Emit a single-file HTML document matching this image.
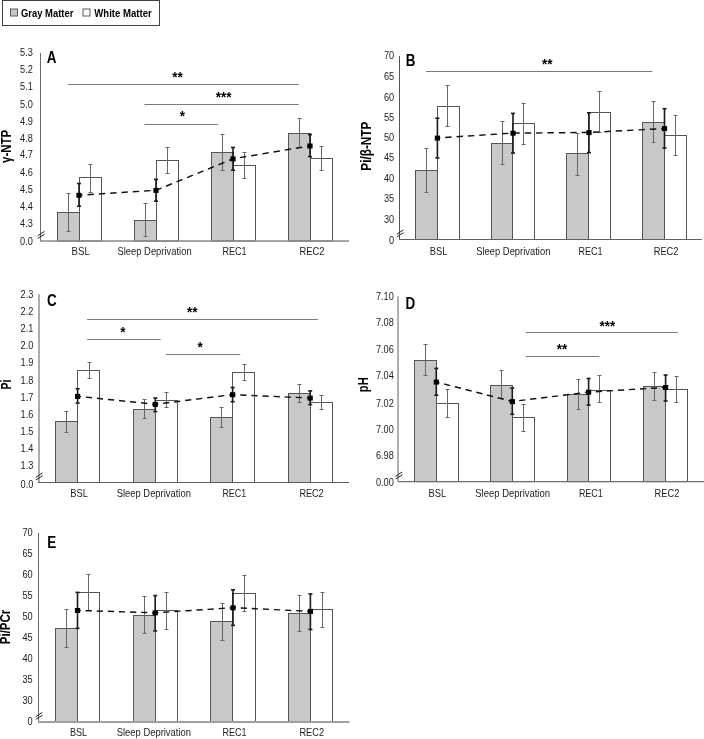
<!DOCTYPE html>
<html><head><meta charset="utf-8"><style>
html,body{margin:0;padding:0;background:#fff;}
svg{display:block;font-family:"Liberation Sans",sans-serif;filter:grayscale(1);}
</style></head><body>
<svg width="704" height="739" viewBox="0 0 704 739">
<rect width="704" height="739" fill="#fff"/>
<!-- panel A -->
<rect x="57.5" y="212.5" width="22" height="28.5" fill="#c8c8c8" stroke="#555555" stroke-width="1"/>
<rect x="79.5" y="177.5" width="22" height="63.5" fill="#fff" stroke="#555555" stroke-width="1"/>
<rect x="134.5" y="220.5" width="22" height="20.5" fill="#c8c8c8" stroke="#555555" stroke-width="1"/>
<rect x="156.5" y="160.5" width="22" height="80.5" fill="#fff" stroke="#555555" stroke-width="1"/>
<rect x="211.5" y="152.5" width="22" height="88.5" fill="#c8c8c8" stroke="#555555" stroke-width="1"/>
<rect x="233.5" y="165.5" width="22" height="75.5" fill="#fff" stroke="#555555" stroke-width="1"/>
<rect x="288.5" y="133.5" width="22" height="107.5" fill="#c8c8c8" stroke="#555555" stroke-width="1"/>
<rect x="310.5" y="158.5" width="22" height="82.5" fill="#fff" stroke="#555555" stroke-width="1"/>
<line x1="68.5" y1="193.5" x2="68.5" y2="231.5" stroke="#666666" stroke-width="1"/>
<line x1="66.5" y1="193.5" x2="70.5" y2="193.5" stroke="#666666" stroke-width="1"/>
<line x1="66.5" y1="231.5" x2="70.5" y2="231.5" stroke="#666666" stroke-width="1"/>
<line x1="90.5" y1="164.5" x2="90.5" y2="192.5" stroke="#666666" stroke-width="1"/>
<line x1="88.5" y1="164.5" x2="92.5" y2="164.5" stroke="#666666" stroke-width="1"/>
<line x1="88.5" y1="192.5" x2="92.5" y2="192.5" stroke="#666666" stroke-width="1"/>
<line x1="145.5" y1="203.5" x2="145.5" y2="236.5" stroke="#666666" stroke-width="1"/>
<line x1="143.5" y1="203.5" x2="147.5" y2="203.5" stroke="#666666" stroke-width="1"/>
<line x1="143.5" y1="236.5" x2="147.5" y2="236.5" stroke="#666666" stroke-width="1"/>
<line x1="167.5" y1="147.5" x2="167.5" y2="173.5" stroke="#666666" stroke-width="1"/>
<line x1="165.5" y1="147.5" x2="169.5" y2="147.5" stroke="#666666" stroke-width="1"/>
<line x1="165.5" y1="173.5" x2="169.5" y2="173.5" stroke="#666666" stroke-width="1"/>
<line x1="222.5" y1="134.5" x2="222.5" y2="170.5" stroke="#666666" stroke-width="1"/>
<line x1="220.5" y1="134.5" x2="224.5" y2="134.5" stroke="#666666" stroke-width="1"/>
<line x1="220.5" y1="170.5" x2="224.5" y2="170.5" stroke="#666666" stroke-width="1"/>
<line x1="244.5" y1="152.5" x2="244.5" y2="178.5" stroke="#666666" stroke-width="1"/>
<line x1="242.5" y1="152.5" x2="246.5" y2="152.5" stroke="#666666" stroke-width="1"/>
<line x1="242.5" y1="178.5" x2="246.5" y2="178.5" stroke="#666666" stroke-width="1"/>
<line x1="299.5" y1="118.5" x2="299.5" y2="147.5" stroke="#666666" stroke-width="1"/>
<line x1="297.5" y1="118.5" x2="301.5" y2="118.5" stroke="#666666" stroke-width="1"/>
<line x1="297.5" y1="147.5" x2="301.5" y2="147.5" stroke="#666666" stroke-width="1"/>
<line x1="321.5" y1="146.5" x2="321.5" y2="170.5" stroke="#666666" stroke-width="1"/>
<line x1="319.5" y1="146.5" x2="323.5" y2="146.5" stroke="#666666" stroke-width="1"/>
<line x1="319.5" y1="170.5" x2="323.5" y2="170.5" stroke="#666666" stroke-width="1"/>
<line x1="40.5" y1="53" x2="40.5" y2="241" stroke="#6a6a6a" stroke-width="1.05"/>
<line x1="40" y1="241" x2="349" y2="241" stroke="#8a8a8a" stroke-width="1.7"/>
<path d="M37.7,235.8 L44.4,231.4 M37.9,238.3 L44.6,234.2" stroke="#222" stroke-width="1" fill="none"/>
<polyline points="79,195.2 156,190.3 233,158.8 310,145.9" fill="none" stroke="#111" stroke-width="1.45" stroke-dasharray="6.4 4.95" stroke-dashoffset="2.85"/>
<line x1="79" y1="183.5" x2="79" y2="206.2" stroke="#1a1a1a" stroke-width="1.6"/>
<line x1="77" y1="183.5" x2="81" y2="183.5" stroke="#1a1a1a" stroke-width="1.6"/>
<line x1="77" y1="206.2" x2="81" y2="206.2" stroke="#1a1a1a" stroke-width="1.6"/>
<rect x="76.4" y="192.8" width="5.2" height="5" fill="#000"/>
<line x1="156" y1="179.4" x2="156" y2="201.2" stroke="#1a1a1a" stroke-width="1.6"/>
<line x1="154" y1="179.4" x2="158" y2="179.4" stroke="#1a1a1a" stroke-width="1.6"/>
<line x1="154" y1="201.2" x2="158" y2="201.2" stroke="#1a1a1a" stroke-width="1.6"/>
<rect x="153.4" y="187.9" width="5.2" height="5" fill="#000"/>
<line x1="233" y1="147.5" x2="233" y2="170.2" stroke="#1a1a1a" stroke-width="1.6"/>
<line x1="231" y1="147.5" x2="235" y2="147.5" stroke="#1a1a1a" stroke-width="1.6"/>
<line x1="231" y1="170.2" x2="235" y2="170.2" stroke="#1a1a1a" stroke-width="1.6"/>
<rect x="230.4" y="156.4" width="5.2" height="5" fill="#000"/>
<line x1="310" y1="134.6" x2="310" y2="156.7" stroke="#1a1a1a" stroke-width="1.6"/>
<line x1="308" y1="134.6" x2="312" y2="134.6" stroke="#1a1a1a" stroke-width="1.6"/>
<line x1="308" y1="156.7" x2="312" y2="156.7" stroke="#1a1a1a" stroke-width="1.6"/>
<rect x="307.4" y="143.5" width="5.2" height="5" fill="#000"/>
<text transform="translate(32.8,56.2) scale(0.8,1)" text-anchor="end" font-size="11.5" font-weight="normal" fill="#1c1c1c">5.3</text>
<text transform="translate(32.8,72.75) scale(0.8,1)" text-anchor="end" font-size="11.5" font-weight="normal" fill="#1c1c1c">5.2</text>
<text transform="translate(32.8,90.2) scale(0.8,1)" text-anchor="end" font-size="11.5" font-weight="normal" fill="#1c1c1c">5.1</text>
<text transform="translate(32.8,107.5) scale(0.8,1)" text-anchor="end" font-size="11.5" font-weight="normal" fill="#1c1c1c">5.0</text>
<text transform="translate(32.8,124.6) scale(0.8,1)" text-anchor="end" font-size="11.5" font-weight="normal" fill="#1c1c1c">4.9</text>
<text transform="translate(32.8,141.6) scale(0.8,1)" text-anchor="end" font-size="11.5" font-weight="normal" fill="#1c1c1c">4.8</text>
<text transform="translate(32.8,158.4) scale(0.8,1)" text-anchor="end" font-size="11.5" font-weight="normal" fill="#1c1c1c">4.7</text>
<text transform="translate(32.8,175.5) scale(0.8,1)" text-anchor="end" font-size="11.5" font-weight="normal" fill="#1c1c1c">4.6</text>
<text transform="translate(32.8,192.5) scale(0.8,1)" text-anchor="end" font-size="11.5" font-weight="normal" fill="#1c1c1c">4.5</text>
<text transform="translate(32.8,209.5) scale(0.8,1)" text-anchor="end" font-size="11.5" font-weight="normal" fill="#1c1c1c">4.4</text>
<text transform="translate(32.8,226.6) scale(0.8,1)" text-anchor="end" font-size="11.5" font-weight="normal" fill="#1c1c1c">4.3</text>
<text transform="translate(32.8,244.6) scale(0.8,1)" text-anchor="end" font-size="11.5" font-weight="normal" fill="#1c1c1c">0.0</text>
<text x="71.5" y="255" font-size="11.5" fill="#1c1c1c" textLength="18.3" lengthAdjust="spacingAndGlyphs">BSL</text>
<text x="117.5" y="255" font-size="11.5" fill="#1c1c1c" textLength="74.1" lengthAdjust="spacingAndGlyphs">Sleep Deprivation</text>
<text x="222.6" y="255" font-size="11.5" fill="#1c1c1c" textLength="24.05" lengthAdjust="spacingAndGlyphs">REC1</text>
<text x="299.6" y="255" font-size="11.5" fill="#1c1c1c" textLength="24.9" lengthAdjust="spacingAndGlyphs">REC2</text>
<text transform="translate(46.7,63.3) scale(0.79,1)" font-size="17" font-weight="bold" fill="#000">A</text>
<text transform="translate(10.5,146.35) rotate(-90)" text-anchor="middle" font-size="14" font-weight="bold" fill="#000" textLength="33.3" lengthAdjust="spacingAndGlyphs">γ-NTP</text>
<line x1="68" y1="84.5" x2="298.7" y2="84.5" stroke="#7a7a7a" stroke-width="1"/>
<text transform="translate(177.5,82) scale(0.9,1)" text-anchor="middle" font-size="15" font-weight="bold" fill="#000">**</text>
<line x1="144.5" y1="104.5" x2="298.7" y2="104.5" stroke="#7a7a7a" stroke-width="1"/>
<text transform="translate(223.7,101.9) scale(0.9,1)" text-anchor="middle" font-size="15" font-weight="bold" fill="#000">***</text>
<line x1="144.5" y1="124.5" x2="217.8" y2="124.5" stroke="#7a7a7a" stroke-width="1"/>
<text transform="translate(182.4,121.4) scale(0.9,1)" text-anchor="middle" font-size="15" font-weight="bold" fill="#000">*</text>
<!-- panel B -->
<rect x="415.5" y="170.5" width="22" height="69" fill="#c8c8c8" stroke="#555555" stroke-width="1"/>
<rect x="437.5" y="106.5" width="22" height="133" fill="#fff" stroke="#555555" stroke-width="1"/>
<rect x="491.5" y="143.5" width="21" height="96" fill="#c8c8c8" stroke="#555555" stroke-width="1"/>
<rect x="512.5" y="123.5" width="22" height="116" fill="#fff" stroke="#555555" stroke-width="1"/>
<rect x="566.5" y="153.5" width="22" height="86" fill="#c8c8c8" stroke="#555555" stroke-width="1"/>
<rect x="588.5" y="112.5" width="22" height="127" fill="#fff" stroke="#555555" stroke-width="1"/>
<rect x="642.5" y="122.5" width="22" height="117" fill="#c8c8c8" stroke="#555555" stroke-width="1"/>
<rect x="664.5" y="135.5" width="22" height="104" fill="#fff" stroke="#555555" stroke-width="1"/>
<line x1="426.5" y1="148.5" x2="426.5" y2="192.5" stroke="#666666" stroke-width="1"/>
<line x1="424.5" y1="148.5" x2="428.5" y2="148.5" stroke="#666666" stroke-width="1"/>
<line x1="424.5" y1="192.5" x2="428.5" y2="192.5" stroke="#666666" stroke-width="1"/>
<line x1="447.5" y1="85.5" x2="447.5" y2="126.5" stroke="#666666" stroke-width="1"/>
<line x1="445.5" y1="85.5" x2="449.5" y2="85.5" stroke="#666666" stroke-width="1"/>
<line x1="445.5" y1="126.5" x2="449.5" y2="126.5" stroke="#666666" stroke-width="1"/>
<line x1="502.5" y1="121.5" x2="502.5" y2="164.5" stroke="#666666" stroke-width="1"/>
<line x1="500.5" y1="121.5" x2="504.5" y2="121.5" stroke="#666666" stroke-width="1"/>
<line x1="500.5" y1="164.5" x2="504.5" y2="164.5" stroke="#666666" stroke-width="1"/>
<line x1="523.5" y1="103.5" x2="523.5" y2="144.5" stroke="#666666" stroke-width="1"/>
<line x1="521.5" y1="103.5" x2="525.5" y2="103.5" stroke="#666666" stroke-width="1"/>
<line x1="521.5" y1="144.5" x2="525.5" y2="144.5" stroke="#666666" stroke-width="1"/>
<line x1="577.5" y1="133.5" x2="577.5" y2="175.5" stroke="#666666" stroke-width="1"/>
<line x1="575.5" y1="133.5" x2="579.5" y2="133.5" stroke="#666666" stroke-width="1"/>
<line x1="575.5" y1="175.5" x2="579.5" y2="175.5" stroke="#666666" stroke-width="1"/>
<line x1="599.5" y1="91.5" x2="599.5" y2="132.5" stroke="#666666" stroke-width="1"/>
<line x1="597.5" y1="91.5" x2="601.5" y2="91.5" stroke="#666666" stroke-width="1"/>
<line x1="597.5" y1="132.5" x2="601.5" y2="132.5" stroke="#666666" stroke-width="1"/>
<line x1="653.5" y1="101.5" x2="653.5" y2="142.5" stroke="#666666" stroke-width="1"/>
<line x1="651.5" y1="101.5" x2="655.5" y2="101.5" stroke="#666666" stroke-width="1"/>
<line x1="651.5" y1="142.5" x2="655.5" y2="142.5" stroke="#666666" stroke-width="1"/>
<line x1="675.5" y1="115.5" x2="675.5" y2="155.5" stroke="#666666" stroke-width="1"/>
<line x1="673.5" y1="115.5" x2="677.5" y2="115.5" stroke="#666666" stroke-width="1"/>
<line x1="673.5" y1="155.5" x2="677.5" y2="155.5" stroke="#666666" stroke-width="1"/>
<line x1="399.5" y1="55.9" x2="399.5" y2="239.5" stroke="#555555" stroke-width="1.05"/>
<line x1="399" y1="239.5" x2="702" y2="239.5" stroke="#606060" stroke-width="1.1"/>
<path d="M396.7,234.3 L403.4,229.9 M396.9,236.8 L403.6,232.7" stroke="#222" stroke-width="1" fill="none"/>
<polyline points="437.4,138 513,133.1 589,132.5 664.5,128.5" fill="none" stroke="#111" stroke-width="1.45" stroke-dasharray="6.4 4.98" stroke-dashoffset="3.55"/>
<line x1="437.4" y1="118.2" x2="437.4" y2="157.9" stroke="#1a1a1a" stroke-width="1.6"/>
<line x1="435.4" y1="118.2" x2="439.4" y2="118.2" stroke="#1a1a1a" stroke-width="1.6"/>
<line x1="435.4" y1="157.9" x2="439.4" y2="157.9" stroke="#1a1a1a" stroke-width="1.6"/>
<rect x="434.8" y="135.6" width="5.2" height="5" fill="#000"/>
<line x1="513" y1="113.4" x2="513" y2="153" stroke="#1a1a1a" stroke-width="1.6"/>
<line x1="511" y1="113.4" x2="515" y2="113.4" stroke="#1a1a1a" stroke-width="1.6"/>
<line x1="511" y1="153" x2="515" y2="153" stroke="#1a1a1a" stroke-width="1.6"/>
<rect x="510.4" y="130.7" width="5.2" height="5" fill="#000"/>
<line x1="589" y1="112.8" x2="589" y2="152.6" stroke="#1a1a1a" stroke-width="1.6"/>
<line x1="587" y1="112.8" x2="591" y2="112.8" stroke="#1a1a1a" stroke-width="1.6"/>
<line x1="587" y1="152.6" x2="591" y2="152.6" stroke="#1a1a1a" stroke-width="1.6"/>
<rect x="586.4" y="130.1" width="5.2" height="5" fill="#000"/>
<line x1="664.5" y1="108.7" x2="664.5" y2="148" stroke="#1a1a1a" stroke-width="1.6"/>
<line x1="662.5" y1="108.7" x2="666.5" y2="108.7" stroke="#1a1a1a" stroke-width="1.6"/>
<line x1="662.5" y1="148" x2="666.5" y2="148" stroke="#1a1a1a" stroke-width="1.6"/>
<rect x="661.9" y="126.1" width="5.2" height="5" fill="#000"/>
<text transform="translate(394.2,59.4) scale(0.8,1)" text-anchor="end" font-size="11.5" font-weight="normal" fill="#1c1c1c">70</text>
<text transform="translate(394.2,79.5) scale(0.8,1)" text-anchor="end" font-size="11.5" font-weight="normal" fill="#1c1c1c">65</text>
<text transform="translate(394.2,100.6) scale(0.8,1)" text-anchor="end" font-size="11.5" font-weight="normal" fill="#1c1c1c">60</text>
<text transform="translate(394.2,120.7) scale(0.8,1)" text-anchor="end" font-size="11.5" font-weight="normal" fill="#1c1c1c">55</text>
<text transform="translate(394.2,141) scale(0.8,1)" text-anchor="end" font-size="11.5" font-weight="normal" fill="#1c1c1c">50</text>
<text transform="translate(394.2,161) scale(0.8,1)" text-anchor="end" font-size="11.5" font-weight="normal" fill="#1c1c1c">45</text>
<text transform="translate(394.2,182.2) scale(0.8,1)" text-anchor="end" font-size="11.5" font-weight="normal" fill="#1c1c1c">40</text>
<text transform="translate(394.2,202.3) scale(0.8,1)" text-anchor="end" font-size="11.5" font-weight="normal" fill="#1c1c1c">35</text>
<text transform="translate(394.2,222.8) scale(0.8,1)" text-anchor="end" font-size="11.5" font-weight="normal" fill="#1c1c1c">30</text>
<text transform="translate(394.2,244) scale(0.8,1)" text-anchor="end" font-size="11.5" font-weight="normal" fill="#1c1c1c">0</text>
<text x="429.7" y="255.3" font-size="11.5" fill="#1c1c1c" textLength="17.7" lengthAdjust="spacingAndGlyphs">BSL</text>
<text x="476.2" y="255.3" font-size="11.5" fill="#1c1c1c" textLength="74.2" lengthAdjust="spacingAndGlyphs">Sleep Deprivation</text>
<text x="578.4" y="255.3" font-size="11.5" fill="#1c1c1c" textLength="24.1" lengthAdjust="spacingAndGlyphs">REC1</text>
<text x="653.7" y="255.3" font-size="11.5" fill="#1c1c1c" textLength="24.8" lengthAdjust="spacingAndGlyphs">REC2</text>
<text transform="translate(405.8,66.3) scale(0.79,1)" font-size="17" font-weight="bold" fill="#000">B</text>
<text transform="translate(370.8,146.15) rotate(-90)" text-anchor="middle" font-size="14" font-weight="bold" fill="#000" textLength="49.1" lengthAdjust="spacingAndGlyphs">Pi/β-NTP</text>
<line x1="426" y1="71.5" x2="652.3" y2="71.5" stroke="#7a7a7a" stroke-width="1"/>
<text transform="translate(547.25,69.3) scale(0.9,1)" text-anchor="middle" font-size="15" font-weight="bold" fill="#000">**</text>
<!-- panel C -->
<rect x="55.5" y="421.5" width="22" height="61" fill="#c8c8c8" stroke="#555555" stroke-width="1"/>
<rect x="77.5" y="370.5" width="22" height="112" fill="#fff" stroke="#555555" stroke-width="1"/>
<rect x="133.5" y="409.5" width="22" height="73" fill="#c8c8c8" stroke="#555555" stroke-width="1"/>
<rect x="155.5" y="400.5" width="22" height="82" fill="#fff" stroke="#555555" stroke-width="1"/>
<rect x="210.5" y="417.5" width="22" height="65" fill="#c8c8c8" stroke="#555555" stroke-width="1"/>
<rect x="232.5" y="372.5" width="22" height="110" fill="#fff" stroke="#555555" stroke-width="1"/>
<rect x="288.5" y="393.5" width="22" height="89" fill="#c8c8c8" stroke="#555555" stroke-width="1"/>
<rect x="310.5" y="402.5" width="22" height="80" fill="#fff" stroke="#555555" stroke-width="1"/>
<line x1="66.5" y1="411.5" x2="66.5" y2="432.5" stroke="#666666" stroke-width="1"/>
<line x1="64.5" y1="411.5" x2="68.5" y2="411.5" stroke="#666666" stroke-width="1"/>
<line x1="64.5" y1="432.5" x2="68.5" y2="432.5" stroke="#666666" stroke-width="1"/>
<line x1="89.5" y1="362.5" x2="89.5" y2="378.5" stroke="#666666" stroke-width="1"/>
<line x1="87.5" y1="362.5" x2="91.5" y2="362.5" stroke="#666666" stroke-width="1"/>
<line x1="87.5" y1="378.5" x2="91.5" y2="378.5" stroke="#666666" stroke-width="1"/>
<line x1="144.5" y1="399.5" x2="144.5" y2="418.5" stroke="#666666" stroke-width="1"/>
<line x1="142.5" y1="399.5" x2="146.5" y2="399.5" stroke="#666666" stroke-width="1"/>
<line x1="142.5" y1="418.5" x2="146.5" y2="418.5" stroke="#666666" stroke-width="1"/>
<line x1="166.5" y1="392.5" x2="166.5" y2="407.5" stroke="#666666" stroke-width="1"/>
<line x1="164.5" y1="392.5" x2="168.5" y2="392.5" stroke="#666666" stroke-width="1"/>
<line x1="164.5" y1="407.5" x2="168.5" y2="407.5" stroke="#666666" stroke-width="1"/>
<line x1="221.5" y1="407.5" x2="221.5" y2="427.5" stroke="#666666" stroke-width="1"/>
<line x1="219.5" y1="407.5" x2="223.5" y2="407.5" stroke="#666666" stroke-width="1"/>
<line x1="219.5" y1="427.5" x2="223.5" y2="427.5" stroke="#666666" stroke-width="1"/>
<line x1="244.5" y1="364.5" x2="244.5" y2="380.5" stroke="#666666" stroke-width="1"/>
<line x1="242.5" y1="364.5" x2="246.5" y2="364.5" stroke="#666666" stroke-width="1"/>
<line x1="242.5" y1="380.5" x2="246.5" y2="380.5" stroke="#666666" stroke-width="1"/>
<line x1="299.5" y1="384.5" x2="299.5" y2="402.5" stroke="#666666" stroke-width="1"/>
<line x1="297.5" y1="384.5" x2="301.5" y2="384.5" stroke="#666666" stroke-width="1"/>
<line x1="297.5" y1="402.5" x2="301.5" y2="402.5" stroke="#666666" stroke-width="1"/>
<line x1="321.5" y1="395.5" x2="321.5" y2="409.5" stroke="#666666" stroke-width="1"/>
<line x1="319.5" y1="395.5" x2="323.5" y2="395.5" stroke="#666666" stroke-width="1"/>
<line x1="319.5" y1="409.5" x2="323.5" y2="409.5" stroke="#666666" stroke-width="1"/>
<line x1="39" y1="294.2" x2="39" y2="482.5" stroke="#a8a8a8" stroke-width="1.9"/>
<line x1="38" y1="482.5" x2="349" y2="482.5" stroke="#5a5a5a" stroke-width="1.1"/>
<path d="M35.8,477.3 L42.5,472.9 M36,479.8 L42.7,475.7" stroke="#222" stroke-width="1" fill="none"/>
<polyline points="77.6,396.3 155.3,404.3 232.6,394.6 310.2,398" fill="none" stroke="#111" stroke-width="1.45" stroke-dasharray="6.2 4.9" stroke-dashoffset="2.8"/>
<line x1="77.6" y1="388.8" x2="77.6" y2="403.1" stroke="#1a1a1a" stroke-width="1.6"/>
<line x1="75.6" y1="388.8" x2="79.6" y2="388.8" stroke="#1a1a1a" stroke-width="1.6"/>
<line x1="75.6" y1="403.1" x2="79.6" y2="403.1" stroke="#1a1a1a" stroke-width="1.6"/>
<rect x="75" y="393.9" width="5.2" height="5" fill="#000"/>
<line x1="155.3" y1="398" x2="155.3" y2="411.6" stroke="#1a1a1a" stroke-width="1.6"/>
<line x1="153.3" y1="398" x2="157.3" y2="398" stroke="#1a1a1a" stroke-width="1.6"/>
<line x1="153.3" y1="411.6" x2="157.3" y2="411.6" stroke="#1a1a1a" stroke-width="1.6"/>
<rect x="152.7" y="401.9" width="5.2" height="5" fill="#000"/>
<line x1="232.6" y1="387.5" x2="232.6" y2="401.7" stroke="#1a1a1a" stroke-width="1.6"/>
<line x1="230.6" y1="387.5" x2="234.6" y2="387.5" stroke="#1a1a1a" stroke-width="1.6"/>
<line x1="230.6" y1="401.7" x2="234.6" y2="401.7" stroke="#1a1a1a" stroke-width="1.6"/>
<rect x="230" y="392.2" width="5.2" height="5" fill="#000"/>
<line x1="310.2" y1="390.9" x2="310.2" y2="404.6" stroke="#1a1a1a" stroke-width="1.6"/>
<line x1="308.2" y1="390.9" x2="312.2" y2="390.9" stroke="#1a1a1a" stroke-width="1.6"/>
<line x1="308.2" y1="404.6" x2="312.2" y2="404.6" stroke="#1a1a1a" stroke-width="1.6"/>
<rect x="307.6" y="395.6" width="5.2" height="5" fill="#000"/>
<text transform="translate(33.4,297.8) scale(0.8,1)" text-anchor="end" font-size="11.5" font-weight="normal" fill="#1c1c1c">2.3</text>
<text transform="translate(33.4,314.9) scale(0.8,1)" text-anchor="end" font-size="11.5" font-weight="normal" fill="#1c1c1c">2.2</text>
<text transform="translate(33.4,332) scale(0.8,1)" text-anchor="end" font-size="11.5" font-weight="normal" fill="#1c1c1c">2.1</text>
<text transform="translate(33.4,349) scale(0.8,1)" text-anchor="end" font-size="11.5" font-weight="normal" fill="#1c1c1c">2.0</text>
<text transform="translate(33.4,366.1) scale(0.8,1)" text-anchor="end" font-size="11.5" font-weight="normal" fill="#1c1c1c">1.9</text>
<text transform="translate(33.4,383.5) scale(0.8,1)" text-anchor="end" font-size="11.5" font-weight="normal" fill="#1c1c1c">1.8</text>
<text transform="translate(33.4,400.6) scale(0.8,1)" text-anchor="end" font-size="11.5" font-weight="normal" fill="#1c1c1c">1.7</text>
<text transform="translate(33.4,417.6) scale(0.8,1)" text-anchor="end" font-size="11.5" font-weight="normal" fill="#1c1c1c">1.6</text>
<text transform="translate(33.4,434.7) scale(0.8,1)" text-anchor="end" font-size="11.5" font-weight="normal" fill="#1c1c1c">1.5</text>
<text transform="translate(33.4,451.8) scale(0.8,1)" text-anchor="end" font-size="11.5" font-weight="normal" fill="#1c1c1c">1.4</text>
<text transform="translate(33.4,469) scale(0.8,1)" text-anchor="end" font-size="11.5" font-weight="normal" fill="#1c1c1c">1.3</text>
<text transform="translate(33.4,488) scale(0.8,1)" text-anchor="end" font-size="11.5" font-weight="normal" fill="#1c1c1c">0.0</text>
<text x="70.3" y="496.8" font-size="11.5" fill="#1c1c1c" textLength="17.6" lengthAdjust="spacingAndGlyphs">BSL</text>
<text x="116.7" y="496.8" font-size="11.5" fill="#1c1c1c" textLength="74.2" lengthAdjust="spacingAndGlyphs">Sleep Deprivation</text>
<text x="222.4" y="496.8" font-size="11.5" fill="#1c1c1c" textLength="23.8" lengthAdjust="spacingAndGlyphs">REC1</text>
<text x="299.4" y="496.8" font-size="11.5" fill="#1c1c1c" textLength="24.3" lengthAdjust="spacingAndGlyphs">REC2</text>
<text transform="translate(47,305.9) scale(0.79,1)" font-size="17" font-weight="bold" fill="#000">C</text>
<text transform="translate(10.5,384.45) rotate(-90)" text-anchor="middle" font-size="14" font-weight="bold" fill="#000" textLength="9.9" lengthAdjust="spacingAndGlyphs">Pi</text>
<line x1="87.1" y1="319.5" x2="317.9" y2="319.5" stroke="#7a7a7a" stroke-width="1"/>
<text transform="translate(192.15,316.5) scale(0.9,1)" text-anchor="middle" font-size="15" font-weight="bold" fill="#000">**</text>
<line x1="87.1" y1="339.5" x2="160.7" y2="339.5" stroke="#7a7a7a" stroke-width="1"/>
<text transform="translate(122.8,336.7) scale(0.9,1)" text-anchor="middle" font-size="15" font-weight="bold" fill="#000">*</text>
<line x1="166.2" y1="354.5" x2="240.3" y2="354.5" stroke="#7a7a7a" stroke-width="1"/>
<text transform="translate(200.05,352.3) scale(0.9,1)" text-anchor="middle" font-size="15" font-weight="bold" fill="#000">*</text>
<!-- panel D -->
<rect x="414.5" y="360.5" width="22" height="121.1" fill="#c8c8c8" stroke="#555555" stroke-width="1"/>
<rect x="436.5" y="403.5" width="22" height="78.1" fill="#fff" stroke="#555555" stroke-width="1"/>
<rect x="490.5" y="385.5" width="22" height="96.1" fill="#c8c8c8" stroke="#555555" stroke-width="1"/>
<rect x="512.5" y="417.5" width="22" height="64.1" fill="#fff" stroke="#555555" stroke-width="1"/>
<rect x="567.5" y="394.5" width="21" height="87.1" fill="#c8c8c8" stroke="#555555" stroke-width="1"/>
<rect x="588.5" y="390.5" width="22" height="91.1" fill="#fff" stroke="#555555" stroke-width="1"/>
<rect x="643.5" y="386.5" width="22" height="95.1" fill="#c8c8c8" stroke="#555555" stroke-width="1"/>
<rect x="665.5" y="389.5" width="22" height="92.1" fill="#fff" stroke="#555555" stroke-width="1"/>
<line x1="425.5" y1="344.5" x2="425.5" y2="375.5" stroke="#666666" stroke-width="1"/>
<line x1="423.5" y1="344.5" x2="427.5" y2="344.5" stroke="#666666" stroke-width="1"/>
<line x1="423.5" y1="375.5" x2="427.5" y2="375.5" stroke="#666666" stroke-width="1"/>
<line x1="447.5" y1="389.5" x2="447.5" y2="417.5" stroke="#666666" stroke-width="1"/>
<line x1="445.5" y1="389.5" x2="449.5" y2="389.5" stroke="#666666" stroke-width="1"/>
<line x1="445.5" y1="417.5" x2="449.5" y2="417.5" stroke="#666666" stroke-width="1"/>
<line x1="501.5" y1="370.5" x2="501.5" y2="398.5" stroke="#666666" stroke-width="1"/>
<line x1="499.5" y1="370.5" x2="503.5" y2="370.5" stroke="#666666" stroke-width="1"/>
<line x1="499.5" y1="398.5" x2="503.5" y2="398.5" stroke="#666666" stroke-width="1"/>
<line x1="523.5" y1="404.5" x2="523.5" y2="431.5" stroke="#666666" stroke-width="1"/>
<line x1="521.5" y1="404.5" x2="525.5" y2="404.5" stroke="#666666" stroke-width="1"/>
<line x1="521.5" y1="431.5" x2="525.5" y2="431.5" stroke="#666666" stroke-width="1"/>
<line x1="578.5" y1="379.5" x2="578.5" y2="409.5" stroke="#666666" stroke-width="1"/>
<line x1="576.5" y1="379.5" x2="580.5" y2="379.5" stroke="#666666" stroke-width="1"/>
<line x1="576.5" y1="409.5" x2="580.5" y2="409.5" stroke="#666666" stroke-width="1"/>
<line x1="599.5" y1="375.5" x2="599.5" y2="402.5" stroke="#666666" stroke-width="1"/>
<line x1="597.5" y1="375.5" x2="601.5" y2="375.5" stroke="#666666" stroke-width="1"/>
<line x1="597.5" y1="402.5" x2="601.5" y2="402.5" stroke="#666666" stroke-width="1"/>
<line x1="654.5" y1="372.5" x2="654.5" y2="400.5" stroke="#666666" stroke-width="1"/>
<line x1="652.5" y1="372.5" x2="656.5" y2="372.5" stroke="#666666" stroke-width="1"/>
<line x1="652.5" y1="400.5" x2="656.5" y2="400.5" stroke="#666666" stroke-width="1"/>
<line x1="676.5" y1="376.5" x2="676.5" y2="402.5" stroke="#666666" stroke-width="1"/>
<line x1="674.5" y1="376.5" x2="678.5" y2="376.5" stroke="#666666" stroke-width="1"/>
<line x1="674.5" y1="402.5" x2="678.5" y2="402.5" stroke="#666666" stroke-width="1"/>
<line x1="398" y1="296.3" x2="398" y2="481.6" stroke="#a8a8a8" stroke-width="1.8"/>
<line x1="398" y1="481.6" x2="704" y2="481.6" stroke="#707070" stroke-width="1.3"/>
<path d="M395.5,476.4 L402.2,472 M395.7,478.9 L402.4,474.8" stroke="#222" stroke-width="1" fill="none"/>
<polyline points="436.3,382 512.3,401.5 588.6,392.1 665.6,387.4" fill="none" stroke="#111" stroke-width="1.45" stroke-dasharray="6.2 4.83" stroke-dashoffset="2.83"/>
<line x1="436.3" y1="368.4" x2="436.3" y2="395.2" stroke="#1a1a1a" stroke-width="1.6"/>
<line x1="434.3" y1="368.4" x2="438.3" y2="368.4" stroke="#1a1a1a" stroke-width="1.6"/>
<line x1="434.3" y1="395.2" x2="438.3" y2="395.2" stroke="#1a1a1a" stroke-width="1.6"/>
<rect x="433.7" y="379.6" width="5.2" height="5" fill="#000"/>
<line x1="512.3" y1="388" x2="512.3" y2="414.3" stroke="#1a1a1a" stroke-width="1.6"/>
<line x1="510.3" y1="388" x2="514.3" y2="388" stroke="#1a1a1a" stroke-width="1.6"/>
<line x1="510.3" y1="414.3" x2="514.3" y2="414.3" stroke="#1a1a1a" stroke-width="1.6"/>
<rect x="509.7" y="399.1" width="5.2" height="5" fill="#000"/>
<line x1="588.6" y1="378.5" x2="588.6" y2="405.1" stroke="#1a1a1a" stroke-width="1.6"/>
<line x1="586.6" y1="378.5" x2="590.6" y2="378.5" stroke="#1a1a1a" stroke-width="1.6"/>
<line x1="586.6" y1="405.1" x2="590.6" y2="405.1" stroke="#1a1a1a" stroke-width="1.6"/>
<rect x="586" y="389.7" width="5.2" height="5" fill="#000"/>
<line x1="665.6" y1="375" x2="665.6" y2="401" stroke="#1a1a1a" stroke-width="1.6"/>
<line x1="663.6" y1="375" x2="667.6" y2="375" stroke="#1a1a1a" stroke-width="1.6"/>
<line x1="663.6" y1="401" x2="667.6" y2="401" stroke="#1a1a1a" stroke-width="1.6"/>
<rect x="663" y="385" width="5.2" height="5" fill="#000"/>
<text transform="translate(393.8,300) scale(0.8,1)" text-anchor="end" font-size="11.5" font-weight="normal" fill="#1c1c1c">7.10</text>
<text transform="translate(393.8,326.3) scale(0.8,1)" text-anchor="end" font-size="11.5" font-weight="normal" fill="#1c1c1c">7.08</text>
<text transform="translate(393.8,352.8) scale(0.8,1)" text-anchor="end" font-size="11.5" font-weight="normal" fill="#1c1c1c">7.06</text>
<text transform="translate(393.8,379.1) scale(0.8,1)" text-anchor="end" font-size="11.5" font-weight="normal" fill="#1c1c1c">7.04</text>
<text transform="translate(393.8,406.7) scale(0.8,1)" text-anchor="end" font-size="11.5" font-weight="normal" fill="#1c1c1c">7.02</text>
<text transform="translate(393.8,433) scale(0.8,1)" text-anchor="end" font-size="11.5" font-weight="normal" fill="#1c1c1c">7.00</text>
<text transform="translate(393.8,459.1) scale(0.8,1)" text-anchor="end" font-size="11.5" font-weight="normal" fill="#1c1c1c">6.98</text>
<text transform="translate(393.8,485.9) scale(0.8,1)" text-anchor="end" font-size="11.5" font-weight="normal" fill="#1c1c1c">0.00</text>
<text x="428.5" y="496.7" font-size="11.5" fill="#1c1c1c" textLength="17.7" lengthAdjust="spacingAndGlyphs">BSL</text>
<text x="475.3" y="496.7" font-size="11.5" fill="#1c1c1c" textLength="74.7" lengthAdjust="spacingAndGlyphs">Sleep Deprivation</text>
<text x="578.9" y="496.7" font-size="11.5" fill="#1c1c1c" textLength="23.8" lengthAdjust="spacingAndGlyphs">REC1</text>
<text x="654.6" y="496.7" font-size="11.5" fill="#1c1c1c" textLength="24.7" lengthAdjust="spacingAndGlyphs">REC2</text>
<text transform="translate(405.6,309) scale(0.79,1)" font-size="17" font-weight="bold" fill="#000">D</text>
<text transform="translate(367.7,384.75) rotate(-90)" text-anchor="middle" font-size="14" font-weight="bold" fill="#000" textLength="14.9" lengthAdjust="spacingAndGlyphs">pH</text>
<line x1="525.8" y1="332.5" x2="677.8" y2="332.5" stroke="#7a7a7a" stroke-width="1"/>
<text transform="translate(607.4,330.8) scale(0.9,1)" text-anchor="middle" font-size="15" font-weight="bold" fill="#000">***</text>
<line x1="525.8" y1="356.5" x2="599.3" y2="356.5" stroke="#7a7a7a" stroke-width="1"/>
<text transform="translate(561.95,353.8) scale(0.9,1)" text-anchor="middle" font-size="15" font-weight="bold" fill="#000">**</text>
<!-- panel E -->
<rect x="55.5" y="628.5" width="22" height="93.5" fill="#c8c8c8" stroke="#555555" stroke-width="1"/>
<rect x="77.5" y="592.5" width="22" height="129.5" fill="#fff" stroke="#555555" stroke-width="1"/>
<rect x="133.5" y="615.5" width="22" height="106.5" fill="#c8c8c8" stroke="#555555" stroke-width="1"/>
<rect x="155.5" y="610.5" width="22" height="111.5" fill="#fff" stroke="#555555" stroke-width="1"/>
<rect x="210.5" y="621.5" width="22" height="100.5" fill="#c8c8c8" stroke="#555555" stroke-width="1"/>
<rect x="232.5" y="593.5" width="23" height="128.5" fill="#fff" stroke="#555555" stroke-width="1"/>
<rect x="288.5" y="613.5" width="22" height="108.5" fill="#c8c8c8" stroke="#555555" stroke-width="1"/>
<rect x="310.5" y="609.5" width="22" height="112.5" fill="#fff" stroke="#555555" stroke-width="1"/>
<line x1="66.5" y1="609.5" x2="66.5" y2="647.5" stroke="#666666" stroke-width="1"/>
<line x1="64.5" y1="609.5" x2="68.5" y2="609.5" stroke="#666666" stroke-width="1"/>
<line x1="64.5" y1="647.5" x2="68.5" y2="647.5" stroke="#666666" stroke-width="1"/>
<line x1="88.5" y1="574.5" x2="88.5" y2="610.5" stroke="#666666" stroke-width="1"/>
<line x1="86.5" y1="574.5" x2="90.5" y2="574.5" stroke="#666666" stroke-width="1"/>
<line x1="86.5" y1="610.5" x2="90.5" y2="610.5" stroke="#666666" stroke-width="1"/>
<line x1="144.5" y1="596.5" x2="144.5" y2="633.5" stroke="#666666" stroke-width="1"/>
<line x1="142.5" y1="596.5" x2="146.5" y2="596.5" stroke="#666666" stroke-width="1"/>
<line x1="142.5" y1="633.5" x2="146.5" y2="633.5" stroke="#666666" stroke-width="1"/>
<line x1="166.5" y1="592.5" x2="166.5" y2="629.5" stroke="#666666" stroke-width="1"/>
<line x1="164.5" y1="592.5" x2="168.5" y2="592.5" stroke="#666666" stroke-width="1"/>
<line x1="164.5" y1="629.5" x2="168.5" y2="629.5" stroke="#666666" stroke-width="1"/>
<line x1="222.5" y1="603.5" x2="222.5" y2="640.5" stroke="#666666" stroke-width="1"/>
<line x1="220.5" y1="603.5" x2="224.5" y2="603.5" stroke="#666666" stroke-width="1"/>
<line x1="220.5" y1="640.5" x2="224.5" y2="640.5" stroke="#666666" stroke-width="1"/>
<line x1="244.5" y1="575.5" x2="244.5" y2="611.5" stroke="#666666" stroke-width="1"/>
<line x1="242.5" y1="575.5" x2="246.5" y2="575.5" stroke="#666666" stroke-width="1"/>
<line x1="242.5" y1="611.5" x2="246.5" y2="611.5" stroke="#666666" stroke-width="1"/>
<line x1="299.5" y1="595.5" x2="299.5" y2="631.5" stroke="#666666" stroke-width="1"/>
<line x1="297.5" y1="595.5" x2="301.5" y2="595.5" stroke="#666666" stroke-width="1"/>
<line x1="297.5" y1="631.5" x2="301.5" y2="631.5" stroke="#666666" stroke-width="1"/>
<line x1="322.5" y1="592.5" x2="322.5" y2="627.5" stroke="#666666" stroke-width="1"/>
<line x1="320.5" y1="592.5" x2="324.5" y2="592.5" stroke="#666666" stroke-width="1"/>
<line x1="320.5" y1="627.5" x2="324.5" y2="627.5" stroke="#666666" stroke-width="1"/>
<line x1="38.5" y1="533" x2="38.5" y2="722" stroke="#6a6a6a" stroke-width="1.05"/>
<line x1="38" y1="722" x2="349.4" y2="722" stroke="#a0a0a0" stroke-width="1.8"/>
<path d="M35.6,716.8 L42.3,712.4 M35.8,719.3 L42.5,715.2" stroke="#222" stroke-width="1" fill="none"/>
<polyline points="77.5,610.4 155.2,612.8 233,607.7 310.4,611.3" fill="none" stroke="#111" stroke-width="1.45" stroke-dasharray="6.2 4.89" stroke-dashoffset="2.89"/>
<line x1="77.5" y1="592.4" x2="77.5" y2="628.3" stroke="#1a1a1a" stroke-width="1.6"/>
<line x1="75.5" y1="592.4" x2="79.5" y2="592.4" stroke="#1a1a1a" stroke-width="1.6"/>
<line x1="75.5" y1="628.3" x2="79.5" y2="628.3" stroke="#1a1a1a" stroke-width="1.6"/>
<rect x="74.9" y="608" width="5.2" height="5" fill="#000"/>
<line x1="155.2" y1="595.6" x2="155.2" y2="630.9" stroke="#1a1a1a" stroke-width="1.6"/>
<line x1="153.2" y1="595.6" x2="157.2" y2="595.6" stroke="#1a1a1a" stroke-width="1.6"/>
<line x1="153.2" y1="630.9" x2="157.2" y2="630.9" stroke="#1a1a1a" stroke-width="1.6"/>
<rect x="152.6" y="610.4" width="5.2" height="5" fill="#000"/>
<line x1="233" y1="589.8" x2="233" y2="625.4" stroke="#1a1a1a" stroke-width="1.6"/>
<line x1="231" y1="589.8" x2="235" y2="589.8" stroke="#1a1a1a" stroke-width="1.6"/>
<line x1="231" y1="625.4" x2="235" y2="625.4" stroke="#1a1a1a" stroke-width="1.6"/>
<rect x="230.4" y="605.3" width="5.2" height="5" fill="#000"/>
<line x1="310.4" y1="593.9" x2="310.4" y2="629.5" stroke="#1a1a1a" stroke-width="1.6"/>
<line x1="308.4" y1="593.9" x2="312.4" y2="593.9" stroke="#1a1a1a" stroke-width="1.6"/>
<line x1="308.4" y1="629.5" x2="312.4" y2="629.5" stroke="#1a1a1a" stroke-width="1.6"/>
<rect x="307.8" y="608.9" width="5.2" height="5" fill="#000"/>
<text transform="translate(32.7,535.6) scale(0.8,1)" text-anchor="end" font-size="11.5" font-weight="normal" fill="#1c1c1c">70</text>
<text transform="translate(32.7,556.6) scale(0.8,1)" text-anchor="end" font-size="11.5" font-weight="normal" fill="#1c1c1c">65</text>
<text transform="translate(32.7,577.9) scale(0.8,1)" text-anchor="end" font-size="11.5" font-weight="normal" fill="#1c1c1c">60</text>
<text transform="translate(32.7,598.7) scale(0.8,1)" text-anchor="end" font-size="11.5" font-weight="normal" fill="#1c1c1c">55</text>
<text transform="translate(32.7,619.7) scale(0.8,1)" text-anchor="end" font-size="11.5" font-weight="normal" fill="#1c1c1c">50</text>
<text transform="translate(32.7,640.7) scale(0.8,1)" text-anchor="end" font-size="11.5" font-weight="normal" fill="#1c1c1c">45</text>
<text transform="translate(32.7,661.6) scale(0.8,1)" text-anchor="end" font-size="11.5" font-weight="normal" fill="#1c1c1c">40</text>
<text transform="translate(32.7,682.6) scale(0.8,1)" text-anchor="end" font-size="11.5" font-weight="normal" fill="#1c1c1c">35</text>
<text transform="translate(32.7,703.6) scale(0.8,1)" text-anchor="end" font-size="11.5" font-weight="normal" fill="#1c1c1c">30</text>
<text transform="translate(32.7,724.9) scale(0.8,1)" text-anchor="end" font-size="11.5" font-weight="normal" fill="#1c1c1c">0</text>
<text x="69.9" y="736.2" font-size="11.5" fill="#1c1c1c" textLength="17.3" lengthAdjust="spacingAndGlyphs">BSL</text>
<text x="116.7" y="736.2" font-size="11.5" fill="#1c1c1c" textLength="74.3" lengthAdjust="spacingAndGlyphs">Sleep Deprivation</text>
<text x="222.5" y="736.2" font-size="11.5" fill="#1c1c1c" textLength="24" lengthAdjust="spacingAndGlyphs">REC1</text>
<text x="299.4" y="736.2" font-size="11.5" fill="#1c1c1c" textLength="24.7" lengthAdjust="spacingAndGlyphs">REC2</text>
<text transform="translate(47.3,548.1) scale(0.79,1)" font-size="17" font-weight="bold" fill="#000">E</text>
<text transform="translate(10.4,626.95) rotate(-90)" text-anchor="middle" font-size="14" font-weight="bold" fill="#000" textLength="34.5" lengthAdjust="spacingAndGlyphs">Pi/PCr</text>
<rect x="2.5" y="0.5" width="157" height="25" fill="#fff" stroke="#404040" stroke-width="1"/>
<rect x="10.5" y="9" width="7" height="7" fill="#c8c8c8" stroke="#595959" stroke-width="1"/>
<rect x="83" y="9" width="7" height="7" fill="#fff" stroke="#595959" stroke-width="1"/>
<text x="21" y="16.9" font-size="10.7" font-weight="bold" fill="#000" textLength="52.4" lengthAdjust="spacingAndGlyphs">Gray Matter</text>
<text x="94.3" y="16.9" font-size="10.7" font-weight="bold" fill="#000" textLength="57.4" lengthAdjust="spacingAndGlyphs">White Matter</text>
</svg>
</body></html>
